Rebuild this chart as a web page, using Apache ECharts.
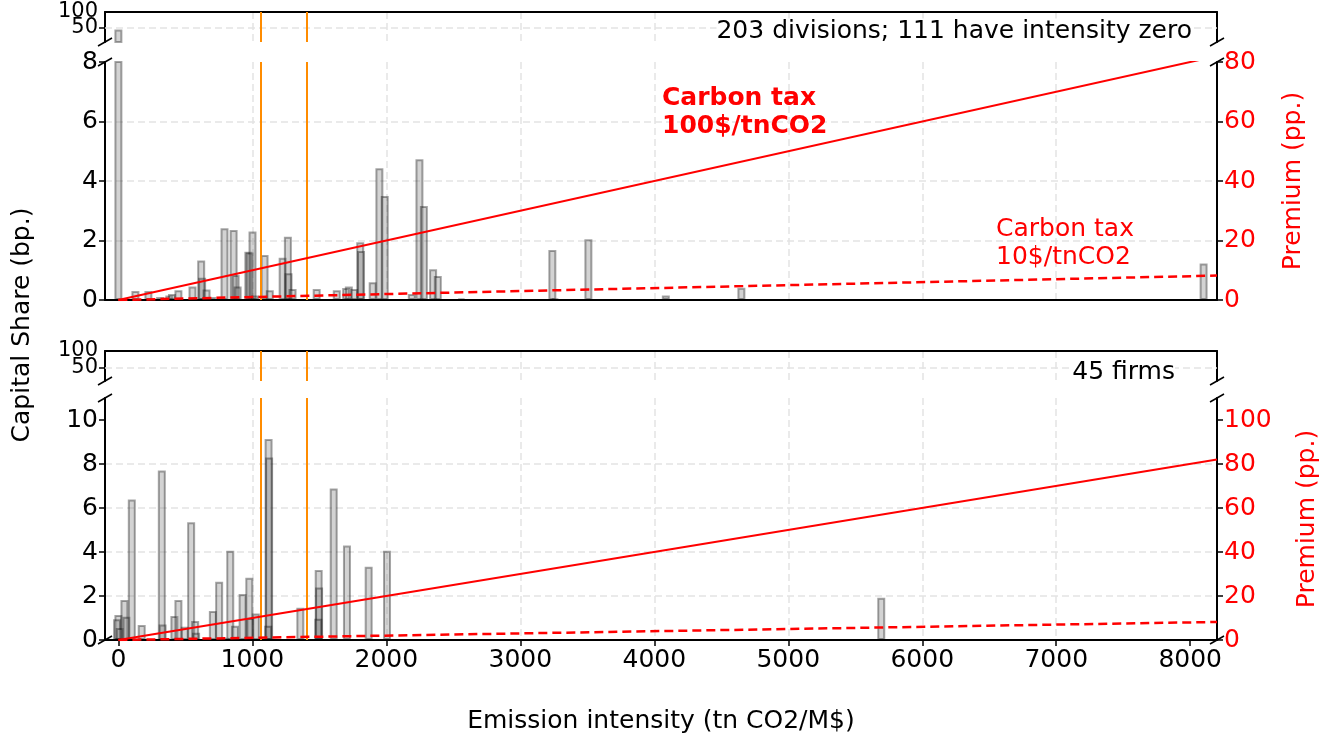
<!DOCTYPE html>
<html>
<head>
<meta charset="utf-8">
<script src="https://cdn.jsdelivr.net/npm/echarts@6/dist/echarts.min.js"></script>
<style>
  html, body { margin: 0; padding: 0; background: #fff; }
  #chart { width: 1331px; height: 740px; }
</style>
</head>
<body>
<div id="chart"></div>
<script>
// divisions (top panel): emission intensity vs capital share (bp.)
const divIntensity = [0, 127, 224, 311, 380, 400, 448, 553, 618, 625, 658, 700, 792, 860, 875, 890,
  970, 980, 1001, 1020, 1091, 1130, 1226, 1265, 1270, 1300, 1480, 1630, 1700, 1720, 1760, 1805,
  1811, 1898, 1948, 1988, 2190, 2247, 2280, 2349, 2384, 2560, 3239, 3260, 3508, 4086, 4650, 8100];
const divShare = [45, 0.3, 0.3, 0.1, 0.15, 0.2, 0.33, 0.45, 1.33, 0.75, 0.35, 0.1, 2.41, 2.35, 0.84, 0.45,
  1.62, 1.6, 2.3, 0.15, 1.51, 0.33, 1.42, 2.13, 0.9, 0.37, 0.37, 0.33, 0.4, 0.45, 0.37, 1.94,
  1.65, 0.6, 4.43, 3.5, 0.2, 4.73, 3.16, 1.03, 0.81, 0.05, 1.68, 0.05, 2.04, 0.15, 0.41, 1.23];

// firms (bottom panel)
const firmIntensity = [0, -10, 10, 45, 60, 100, 174, 324, 330, 418, 448, 495, 543, 573, 580, 705,
  752, 800, 835, 870, 927, 977, 985, 1026, 1121, 1125, 1118, 1358, 1495, 1498, 1492, 1607,
  1706, 1868, 2005, 5694];
const firmShare = [1.14, 0.94, 0.54, 1.82, 1.06, 6.39, 0.68, 7.7, 0.7, 1.09, 1.82, 0.6, 5.35, 0.86, 0.33, 1.32,
  2.65, 0.1, 4.06, 0.65, 2.09, 2.83, 1.0, 1.21, 9.14, 8.3, 0.65, 1.47, 3.18, 2.39, 0.97, 6.89,
  4.29, 3.33, 4.06, 1.92];

// orange reference lines
const thresholds = [1061, 1405];

// carbon tax premium lines (pp.)
const taxX = [0, 8200];
const premium100 = [0, 82];
const premium10 = [0, 8.2];

const xTicks = [0, 1000, 2000, 3000, 4000, 5000, 6000, 7000, 8000];
const upperTicksLow = [50];
const upperTicksHigh = [100];
const shareTicksTop = [0, 2, 4, 6, 8];
const shareTicksBottom = [0, 2, 4, 6, 8, 10];
const premTicksTop = [0, 20, 40, 60, 80];
const premTicksBottom = [0, 20, 40, 60, 80, 100];

const FONT = 'DejaVu Sans';
const FS = 25;
const FS_UPPER = 21;
const GRID_COLOR = '#e3e3e3';

const zip = (xs, ys) => xs.map((x, i) => [x, ys[i]]);
const divData = zip(divIntensity, divShare);
const firmData = zip(firmIntensity, firmShare);

const chart = echarts.init(document.getElementById('chart'));

const grids = [
  { left: 105, right: 114, top: 12, height: 30 },
  { left: 105, right: 114, top: 62, height: 238 },
  { left: 105, right: 114, top: 351, height: 30 },
  { left: 105, right: 114, top: 398, height: 242 }
];

function xAxis(gi, pos, withLabels) {
  return {
    type: 'value', gridIndex: gi, min: -100, max: 8200, splitNumber: 8, position: pos,
    axisLine: { show: true, onZero: false, lineStyle: { color: '#000', width: 2 } },
    axisTick: { show: withLabels, customValues: xTicks, length: 6, lineStyle: { color: '#000', width: 1.5 } },
    axisLabel: { show: withLabels, customValues: xTicks, color: '#000', fontSize: FS, fontFamily: FONT,
      margin: 8, hideOverlap: false, formatter: v => String(v) },
    splitLine: { show: true, showMinLine: false, showMaxLine: false,
      lineStyle: { color: GRID_COLOR, type: [7, 4], width: 1.5 } }
  };
}

function yAxis(gi, pos, o) {
  return Object.assign({
    type: 'value', gridIndex: gi, position: pos,
    axisLine: { show: true, onZero: false, lineStyle: { color: '#000', width: 2 } },
    axisTick: { show: false },
    axisLabel: { show: false },
    splitLine: { show: false }
  }, o);
}

function ticksOn(values, color, size) {
  return {
    axisTick: { show: true, customValues: values, length: 6, lineStyle: { color: '#000', width: 1.5 } },
    axisLabel: { show: true, customValues: values, color: color, fontSize: size, fontFamily: FONT,
      margin: 7, hideOverlap: false, showMinLabel: true, showMaxLabel: true, formatter: v => String(v) }
  };
}

const gridSplit = () => ({
  splitLine: { show: true, showMaxLine: false, showMinLine: false,
    lineStyle: { color: GRID_COLOR, type: [7, 4], width: 1.5 } }
});

function barSeries(xi, yi, data, extraMarks) {
  const marks = thresholds.map(v => ({ xAxis: v, lineStyle: { color: '#ff8c00', width: 2, type: 'solid' } }));
  return {
    type: 'bar', xAxisIndex: xi, yAxisIndex: yi, data: data, barWidth: 8,
    itemStyle: { color: 'rgba(128,128,128,0.35)', borderColor: 'rgba(0,0,0,0.35)', borderWidth: 2 },
    clip: true, silent: true, z: 3,
    markLine: {
      silent: true, symbol: 'none', label: { show: false }, animation: false,
      data: (extraMarks || []).concat(marks)
    }
  };
}

function lineSeries(xi, yi, ys, dashed) {
  return {
    type: 'line', xAxisIndex: xi, yAxisIndex: yi, data: zip(taxX, ys),
    showSymbol: false, clip: true, silent: true, z: 5,
    lineStyle: { color: '#ff0000', width: dashed ? 2.5 : 2, type: dashed ? [9, 5] : 'solid' }
  };
}

const grid50 = [{ yAxis: 50, lineStyle: { color: GRID_COLOR, type: [7, 4], width: 1.5 } }];

function breakMark(x, y) {
  return { type: 'line', shape: { x1: x - 7, y1: y + 4, x2: x + 7, y2: y - 4 },
    style: { stroke: '#000', lineWidth: 1.5 }, z: 100 };
}

const breaks = [];
[42, 62, 381, 398, 640].forEach(y => { breaks.push(breakMark(105, y)); breaks.push(breakMark(1217, y)); });

const premName = (gap) => ({
  name: 'Premium (pp.)', nameLocation: 'middle', nameGap: gap,
  nameTextStyle: { color: '#ff0000', fontSize: FS, fontFamily: FONT }
});

const noLine = { axisLine: { show: false } };

const option = {
  animation: false,
  backgroundColor: '#fff',
  grid: grids,
  xAxis: [
    xAxis(0, 'top', false),
    xAxis(1, 'bottom', false),
    xAxis(2, 'top', false),
    Object.assign(xAxis(3, 'bottom', true), {
      name: 'Emission intensity (tn CO2/M$)', nameLocation: 'middle', nameGap: 69,
      nameTextStyle: { color: '#000', fontSize: FS, fontFamily: FONT }
    })
  ],
  yAxis: [
    yAxis(0, 'left', Object.assign({ min: 6, max: 100 }, ticksOn(upperTicksLow, '#000', FS_UPPER))),   // 0
    yAxis(0, 'right', { min: 6, max: 100 }),                                                           // 1
    yAxis(1, 'left', Object.assign({ min: 0, max: 8, interval: 2 }, ticksOn(shareTicksTop, '#000', FS), gridSplit())), // 2
    yAxis(1, 'right', Object.assign({ min: 0, max: 80, interval: 20 }, premName(64), ticksOn(premTicksTop, '#ff0000', FS))), // 3
    yAxis(2, 'left', Object.assign({ min: 10, max: 100 }, ticksOn(upperTicksLow, '#000', FS_UPPER))),  // 4
    yAxis(2, 'right', { min: 10, max: 100 }),                                                          // 5
    yAxis(3, 'left', Object.assign({ min: 0, max: 11, interval: 2 }, ticksOn(shareTicksBottom, '#000', FS), gridSplit())), // 6
    yAxis(3, 'right', Object.assign({ min: 0, max: 110, interval: 20 }, premName(78), ticksOn(premTicksBottom, '#ff0000', FS))), // 7
    yAxis(0, 'left', Object.assign({ min: 6, max: 100 }, ticksOn(upperTicksHigh, '#000', FS_UPPER), noLine)),  // 8
    yAxis(2, 'left', Object.assign({ min: 10, max: 100 }, ticksOn(upperTicksHigh, '#000', FS_UPPER), noLine))  // 9
  ],
  series: [
    barSeries(0, 0, divData, grid50),
    barSeries(1, 2, divData),
    lineSeries(1, 3, premium100, false),
    lineSeries(1, 3, premium10, true),
    barSeries(2, 4, firmData, grid50),
    barSeries(3, 6, firmData),
    lineSeries(3, 7, premium100, false),
    lineSeries(3, 7, premium10, true)
  ],
  graphic: breaks.concat([
    { type: 'text', x: 22, y: 325, rotation: Math.PI / 2, z: 100,
      style: { text: 'Capital Share (bp.)', fontSize: FS, fontFamily: FONT, fill: '#000',
        align: 'center', verticalAlign: 'middle' } },
    { type: 'text', x: 1192, y: 31, z: 100,
      style: { text: '203 divisions; 111 have intensity zero', fontSize: FS, fontFamily: FONT, fill: '#000',
        align: 'right', verticalAlign: 'middle', backgroundColor: '#fff' } },
    { type: 'text', x: 1175, y: 372, z: 100,
      style: { text: '45 firms', fontSize: FS, fontFamily: FONT, fill: '#000',
        align: 'right', verticalAlign: 'middle', backgroundColor: '#fff' } },
    { type: 'text', x: 662, y: 112, z: 100,
      style: { text: 'Carbon tax\n100$/tnCO2', fontSize: FS, fontWeight: 'bold', fontFamily: FONT,
        fill: '#ff0000', align: 'left', verticalAlign: 'middle', lineHeight: 28 } },
    { type: 'text', x: 996, y: 243, z: 100,
      style: { text: 'Carbon tax\n10$/tnCO2', fontSize: FS, fontFamily: FONT,
        fill: '#ff0000', align: 'left', verticalAlign: 'middle', lineHeight: 28 } }
  ])
};

chart.setOption(option);
</script>
</body>
</html>
